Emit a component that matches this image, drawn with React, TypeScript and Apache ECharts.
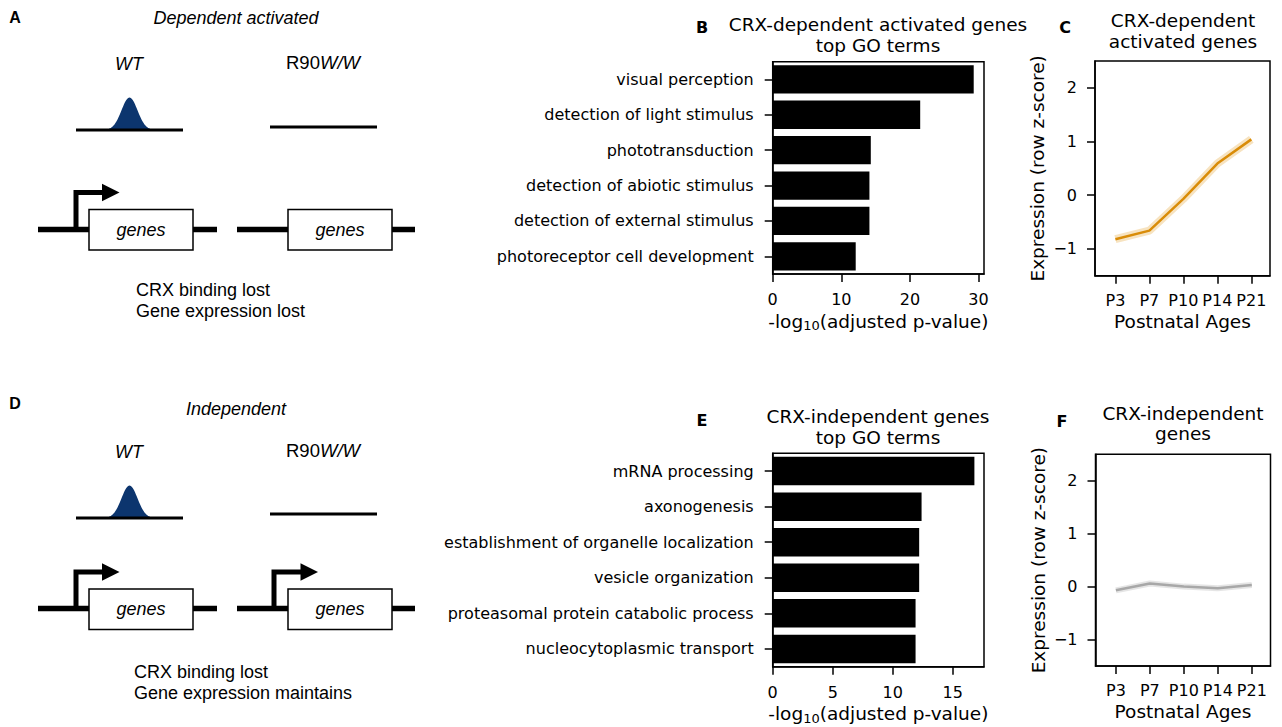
import React, { useEffect, useRef } from 'react';
import * as echarts from 'echarts';

const goTermsB = [
  'visual perception',
  'detection of light stimulus',
  'phototransduction',
  'detection of abiotic stimulus',
  'detection of external stimulus',
  'photoreceptor cell development',
];
const goValuesB = [29.3, 21.5, 14.3, 14.1, 14.1, 12.1];
const goTermsE = [
  'mRNA processing',
  'axonogenesis',
  'establishment of organelle localization',
  'vesicle organization',
  'proteasomal protein catabolic process',
  'nucleocytoplasmic transport',
];
const goValuesE = [16.8, 12.4, 12.2, 12.2, 11.9, 11.9];
const ages = ['P3', 'P7', 'P10', 'P14', 'P21'];
const dependentExpr = [-0.82, -0.66, -0.07, 0.59, 1.04];
const independentExpr = [-0.07, 0.06, 0.0, -0.03, 0.03];
const ticksB = [0, 10, 20, 30];
const ticksE = [0, 5, 10, 15];
const zTicks = [-1, 0, 1, 2];
const ageIdx = [0, 1, 2, 3, 4];

const PF = '"DejaVu Sans", sans-serif';
const DF = '"Liberation Sans", Arial, sans-serif';
const NAVY = '#0C356E';
const TICK_FS = 16;
const NAME_FS = 18.5;
const TITLE_FS = 18.5;

const axisLineStyle = { show: true, onZero: false, lineStyle: { color: '#000', width: 1.5 } };

function barX(gridIndex: number, max: number, ticks: number[]) {
  return {
    type: 'value', gridIndex, min: 0, max,
    axisLine: axisLineStyle,
    axisTick: { show: true, length: 8, lineStyle: { color: '#000', width: 1.5 }, customValues: ticks },
    axisLabel: { customValues: ticks, fontFamily: PF, fontSize: TICK_FS, color: '#000', margin: 17.5 },
    splitLine: { show: false },
    name: '{n|-log}{s|10}{n|(adjusted p-value)}',
    nameLocation: 'middle', nameGap: 36,
    nameTextStyle: {
      fontFamily: PF, color: '#000',
      rich: {
        n: { fontFamily: PF, fontSize: NAME_FS, color: '#000', lineHeight: 22, verticalAlign: 'middle' },
        s: { fontFamily: PF, fontSize: 13, color: '#000', lineHeight: 13, verticalAlign: 'bottom' },
      },
    },
  };
}
function barY(gridIndex: number, cats: string[]) {
  return {
    type: 'category', gridIndex, data: cats, inverse: true,
    axisLine: axisLineStyle,
    axisTick: { show: true, alignWithLabel: true, length: 8, lineStyle: { color: '#000', width: 1.5 } },
    axisLabel: { fontFamily: PF, fontSize: TICK_FS, color: '#000', margin: 19 },
    splitLine: { show: false },
  };
}
function lineX(gridIndex: number) {
  return {
    type: 'value', gridIndex, min: -0.6, max: 4.55,
    axisLine: axisLineStyle,
    axisTick: { show: true, length: 8, lineStyle: { color: '#000', width: 1.5 }, customValues: ageIdx },
    axisLabel: { customValues: ageIdx, fontFamily: PF, fontSize: TICK_FS, color: '#000', margin: 16.5, formatter: (v: number) => ages[Math.round(v)] },
    splitLine: { show: false },
    name: 'Postnatal Ages', nameLocation: 'middle', nameGap: 36,
    nameTextStyle: { fontFamily: PF, fontSize: NAME_FS, color: '#000' },
  };
}
function lineY(gridIndex: number) {
  return {
    type: 'value', gridIndex, min: -1.5, max: 2.5,
    axisLine: axisLineStyle,
    axisTick: { show: true, length: 8, lineStyle: { color: '#000', width: 1.5 }, customValues: zTicks },
    axisLabel: { customValues: zTicks, fontFamily: PF, fontSize: TICK_FS, color: '#000', margin: 18, formatter: (v: number) => (v < 0 ? '\u2212' + Math.abs(v) : String(v)) },
    splitLine: { show: false },
    name: 'Expression (row z-score)', nameLocation: 'middle', nameGap: 48,
    nameTextStyle: { fontFamily: PF, fontSize: NAME_FS, color: '#000' },
  };
}

function txt(x: number, y: number, text: string, font: string, align = 'center', extra: any = {}) {
  return {
    type: 'text', x, y, z: 10,
    style: { text, font, fill: '#000', align, verticalAlign: 'middle', textAlign: align, textVerticalAlign: 'middle', ...extra },
  };
}

function peakPoints(cx: number, base: number, sigma: number, h: number) {
  const pts: number[][] = [];
  for (let t = -3.2; t <= 3.21; t += 0.1) {
    pts.push([cx + t * sigma, base - h * Math.exp(-(t * t) / 2)]);
  }
  return pts;
}

function arrow(x: number, geneY: number, topY: number, headStart: number, headEnd: number) {
  return [
    { type: 'polyline', z: 6, shape: { points: [[x, geneY], [x, topY], [headStart + 1, topY]] }, style: { stroke: '#000', lineWidth: 5, fill: null, lineJoin: 'miter', lineCap: 'butt' } },
    { type: 'polygon', z: 6, shape: { points: [[headStart, topY - 8.7], [headEnd, topY], [headStart, topY + 8.7]] }, style: { fill: '#000' } },
  ];
}

function diagram(p: any) {
  const els: any[] = [];
  els.push(txt(15, p.letterY, p.letter, `bold 16px ${DF}`));
  els.push(txt(236, p.titleY, p.title, `italic 18px ${DF}`));
  els.push(txt(129, p.wtY, 'WT', `italic 18px ${DF}`));
  els.push({
    type: 'text', x: 323, y: p.r90Y, z: 10,
    style: {
      text: '{n|R90}{i|W/W}', align: 'center', verticalAlign: 'middle', textAlign: 'center', textVerticalAlign: 'middle',
      rich: { n: { font: `18.5px ${DF}`, fill: '#000' }, i: { font: `italic 18.5px ${DF}`, fill: '#000' } },
    },
  });
  els.push({ type: 'polygon', z: 5, shape: { points: peakPoints(129.5, p.peakBase, 8, 32.5) }, style: { fill: NAVY } });
  els.push({ type: 'line', z: 6, shape: { x1: 76, y1: p.peakBase, x2: 183, y2: p.peakBase }, style: { stroke: '#000', lineWidth: 3 } });
  els.push({ type: 'line', z: 6, shape: { x1: 270, y1: p.r90LineY, x2: 377, y2: p.r90LineY }, style: { stroke: '#000', lineWidth: 3 } });
  els.push({ type: 'line', z: 5, shape: { x1: 38, y1: p.geneY, x2: 217, y2: p.geneY }, style: { stroke: '#000', lineWidth: 5.5 } });
  els.push({ type: 'line', z: 5, shape: { x1: 237, y1: p.geneY, x2: 415, y2: p.geneY }, style: { stroke: '#000', lineWidth: 5.5 } });
  els.push(...arrow(76, p.geneY, p.arrowY, 102, 119.5));
  if (p.rightArrow) els.push(...arrow(274, p.geneY, p.arrowY, 300.5, 318));
  els.push({ type: 'rect', z: 7, shape: { x: 89, y: p.boxTop, width: 104, height: p.boxBottom - p.boxTop }, style: { fill: '#fff', stroke: '#000', lineWidth: 1.5 } });
  els.push({ type: 'rect', z: 7, shape: { x: 288, y: p.boxTop, width: 104, height: p.boxBottom - p.boxTop }, style: { fill: '#fff', stroke: '#000', lineWidth: 1.5 } });
  els.push({ ...txt(141, (p.boxTop + p.boxBottom) / 2, 'genes', `italic 18px ${DF}`), z: 11 });
  els.push({ ...txt(340, (p.boxTop + p.boxBottom) / 2, 'genes', `italic 18px ${DF}`), z: 11 });
  els.push(txt(p.textX, p.text1Y, 'CRX binding lost', `18px ${DF}`, 'left'));
  els.push(txt(p.textX, p.text2Y, p.text2, `18px ${DF}`, 'left'));
  return els;
}

const panelA = { letter: 'A', letterY: 17, title: 'Dependent activated', titleY: 18, wtY: 64, r90Y: 62, peakBase: 130, r90LineY: 127, geneY: 229.5, boxTop: 209.5, boxBottom: 250, arrowY: 192.5, rightArrow: false, text1Y: 290, text2Y: 311, text2: 'Gene expression lost', textX: 136 };
const panelD = { letter: 'D', letterY: 403, title: 'Independent', titleY: 409, wtY: 452, r90Y: 450, peakBase: 518, r90LineY: 514, geneY: 608.5, boxTop: 589, boxBottom: 629.5, arrowY: 572, rightArrow: true, text1Y: 672, text2Y: 693, text2: 'Gene expression maintains', textX: 134 };

export default function App() {
  const ref = useRef<HTMLDivElement>(null);
  useEffect(() => {
    document.body.style.margin = '0';
    const chart = echarts.init(ref.current!, null, { renderer: 'svg' });
    const gridBase = { show: true, borderColor: '#000', borderWidth: 1.5, backgroundColor: 'transparent', containLabel: false, outerBoundsMode: 'none' };
    const option: any = {
      animation: false,
      backgroundColor: '#fff',
      grid: [
        { ...gridBase, left: 772.7, top: 61.7, width: 211.3, height: 212.3 },
        { ...gridBase, left: 772.7, top: 453.3, width: 211.3, height: 213.4 },
        { ...gridBase, left: 1095, top: 61, width: 175, height: 214.7 },
        { ...gridBase, left: 1095.5, top: 454.3, width: 175, height: 211.7 },
      ],
      xAxis: [barX(0, 30.8, ticksB), barX(1, 17.6, ticksE), lineX(2), lineX(3)],
      yAxis: [barY(0, goTermsB), barY(1, goTermsE), lineY(2), lineY(3)],
      series: [
        { type: 'bar', xAxisIndex: 0, yAxisIndex: 0, data: goValuesB, barCategoryGap: '20%', itemStyle: { color: '#000' } },
        { type: 'bar', xAxisIndex: 1, yAxisIndex: 1, data: goValuesE, barCategoryGap: '20%', itemStyle: { color: '#000' } },
        { type: 'line', xAxisIndex: 2, yAxisIndex: 2, data: dependentExpr.map((v, i) => [i, v]), symbol: 'none', lineStyle: { color: '#DE8F05', width: 8, opacity: 0.25 } },
        { type: 'line', xAxisIndex: 2, yAxisIndex: 2, data: dependentExpr.map((v, i) => [i, v]), symbol: 'none', lineStyle: { color: '#D98C08', width: 2.5 } },
        { type: 'line', xAxisIndex: 3, yAxisIndex: 3, data: independentExpr.map((v, i) => [i, v]), symbol: 'none', lineStyle: { color: '#AAAAAA', width: 6, opacity: 0.3 } },
        { type: 'line', xAxisIndex: 3, yAxisIndex: 3, data: independentExpr.map((v, i) => [i, v]), symbol: 'none', lineStyle: { color: '#A8A8A8', width: 2.5 } },
      ],
      graphic: [
        ...diagram(panelA),
        ...diagram(panelD),
        txt(702, 27, 'B', `bold 16px ${PF}`),
        txt(702, 420, 'E', `bold 16px ${PF}`),
        txt(1065, 27, 'C', `bold 16px ${PF}`),
        txt(1062, 421, 'F', `bold 16px ${PF}`),
        txt(878, 35, 'CRX-dependent activated genes\ntop GO terms', `${TITLE_FS}px ${PF}`, 'center', { lineHeight: 21 }),
        txt(878, 427, 'CRX-independent genes\ntop GO terms', `${TITLE_FS}px ${PF}`, 'center', { lineHeight: 21 }),
        txt(1183, 30.5, 'CRX-dependent\nactivated genes', `${TITLE_FS}px ${PF}`, 'center', { lineHeight: 21 }),
        txt(1183, 423, 'CRX-independent\ngenes', `${TITLE_FS}px ${PF}`, 'center', { lineHeight: 20 }),
      ],
    };
    chart.setOption(option);
    return () => chart.dispose();
  }, []);
  return <div ref={ref} style={{ position: 'fixed', left: 0, top: 0, width: 1282, height: 727 }} />;
}
